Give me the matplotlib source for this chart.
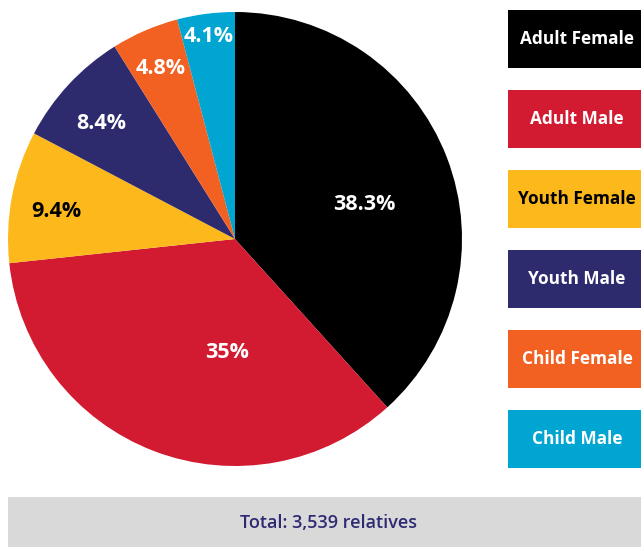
import matplotlib
matplotlib.use("Agg")
import matplotlib.pyplot as plt
from matplotlib.patches import Rectangle

# ── DATA ──────────────────────────────────────────────────────────────────────
categories = ["Adult Female", "Adult Male", "Youth Female", "Youth Male", "Child Female", "Child Male"]
shares = [38.3, 35.0, 9.4, 8.4, 4.8, 4.1]
pct_labels = ["38.3%", "35%", "9.4%", "8.4%", "4.8%", "4.1%"]
total_text = "Total: 3,539 relatives"

# ── STYLE ─────────────────────────────────────────────────────────────────────
colors = ["#000000", "#d21a30", "#fdb91c", "#2e2a6e", "#f26122", "#00a5d2"]
text_colors = ["white", "white", "black", "white", "white", "white"]
# label positions in units of pie radius (hand placed, like the original)
label_xy = [(0.568, 0.150), (-0.035, -0.502), (-0.789, 0.123),
            (-0.590, 0.511), (-0.326, 0.749), (-0.115, 0.894)]
FONT = "Open Sans"

W, H = 641, 547
fig = plt.figure(figsize=(W / 100, H / 100), dpi=100)

# pie: centre (235, 239) px, radius 227 px
cx, cy, r = 235, 239, 227
ax = fig.add_axes([(cx - r) / W, (H - cy - r) / H, 2 * r / W, 2 * r / H])
ax.pie(shares, colors=colors, startangle=90, counterclock=False,
       radius=1, wedgeprops=dict(linewidth=0))
ax.set_xlim(-1, 1)
ax.set_ylim(-1, 1)
ax.set_aspect("equal")
ax.axis("off")

for lab, (x, y), tc in zip(pct_labels, label_xy, text_colors):
    ax.text(x, y, lab, ha="center", va="center", color=tc,
            fontsize=15.5, fontweight="bold", family=FONT)

# legend boxes + total bar drawn in pixel space
ov = fig.add_axes([0, 0, 1, 1])
ov.set_xlim(0, W)
ov.set_ylim(H, 0)
ov.axis("off")
ov.patch.set_alpha(0)

for i, (cat, col, tc) in enumerate(zip(categories, colors, text_colors)):
    top = 10 + i * 80
    ov.add_patch(Rectangle((508, top), 140, 58, color=col, lw=0))
    ov.text(577, top + 29, cat, ha="center", va="center", color=tc,
            fontsize=12.4, fontweight="bold", family=FONT)

ov.add_patch(Rectangle((8, 497), 640, 52, color="#d9d9d9", lw=0))
ov.text(328, 523, total_text, ha="center", va="center", color="#2e2a72",
        fontsize=13, fontweight="semibold", family=FONT)

fig.savefig("out.png", dpi=100)
